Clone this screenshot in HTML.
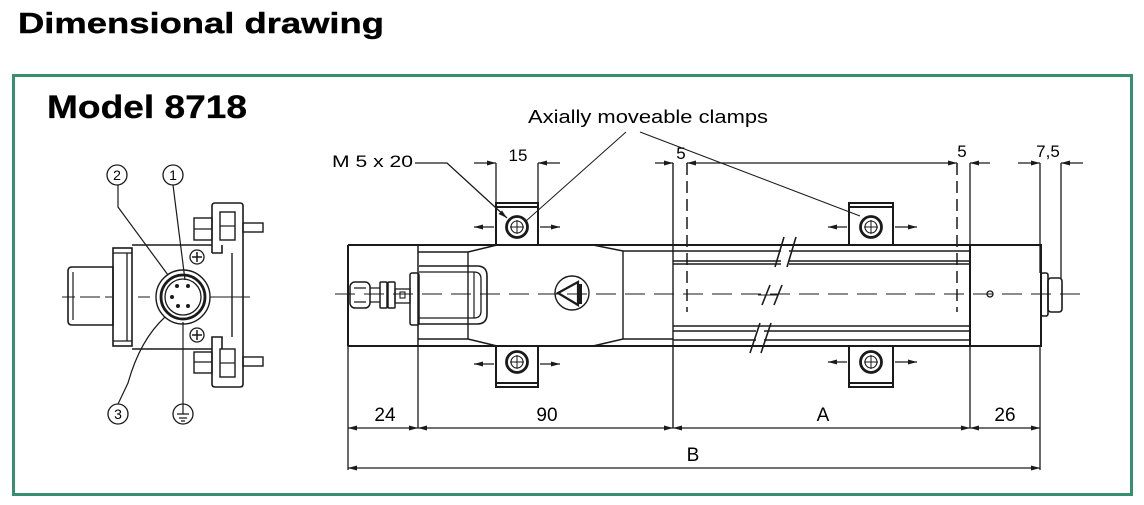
<!DOCTYPE html>
<html><head><meta charset="utf-8"><style>
html,body{margin:0;padding:0;background:#fff;}
svg{display:block;}
text{font-family:"Liberation Sans",Arial,sans-serif;fill:#000;}
</style></head><body>
<svg width="1144" height="505" viewBox="0 0 1144 505" xmlns="http://www.w3.org/2000/svg">
<rect width="1144" height="505" fill="#fff"/>
<text x="18" y="33" font-size="29" font-weight="bold" textLength="366" lengthAdjust="spacingAndGlyphs" stroke="#000" stroke-width="0.4">Dimensional drawing</text>
<rect x="13.5" y="75.5" width="1118" height="419" fill="none" stroke="#36906f" stroke-width="3"/>
<text x="47" y="118" font-size="32" font-weight="bold" textLength="200" lengthAdjust="spacingAndGlyphs" stroke="#000" stroke-width="0.3">Model 8718</text>

<g fill="none" stroke="#1a1a1a" stroke-width="1.6">
<!-- LEFT END VIEW -->
<circle cx="117" cy="175" r="10" stroke-width="1.3"/>
<circle cx="173" cy="175" r="10" stroke-width="1.3"/>
<circle cx="118" cy="414" r="10" stroke-width="1.3"/>
<circle cx="183" cy="414" r="10" stroke-width="1.3"/>
<path d="M177,414 H189 M179,418 H187 M181,421 H185 M183,404 V414" stroke-width="1.2"/>
<path d="M118,185 V207 L168,275" stroke-width="1.2"/>
<path d="M173,185 L185,280" stroke-width="1.2"/>
<path d="M118,404 L128,383 Q140,340 165,317" stroke-width="1.2"/>
<path d="M183,404 V322" stroke-width="1.2"/>
<!-- plug -->
<path d="M72,267 H113 V325 H72 Q68,325 68,321 V271 Q68,267 72,267 Z"/>
<path d="M73,272 V320" stroke-width="1.2"/>
<!-- flange -->
<rect x="113" y="248" width="19" height="98"/>
<path d="M127,253 V341 M113,253 H132 M113,341 H132" stroke-width="1.3"/>
<!-- body -->
<path d="M132,245 H212 M132,349 H212"/>
<!-- bracket -->
<path d="M212,253 V206 Q212,203 215,203 H240 Q243,203 243,206 V384 Q243,387 240,387 H215 Q212,387 212,384 V337 H222 V349 M212,253 H222 V245"/>
<path d="M232,253 V337" stroke-width="1.4"/>
<rect x="220" y="212" width="15" height="28" stroke-width="1.4"/>
<path d="M220,226 H235" stroke-width="1.2"/>
<rect x="220" y="349" width="15" height="28" stroke-width="1.4"/>
<path d="M220,363 H235" stroke-width="1.2"/>
<!-- bolts -->
<rect x="194" y="218" width="18" height="22" stroke-width="1.4"/>
<path d="M194,229 H212" stroke-width="1.2"/>
<rect x="243" y="223" width="20" height="9" stroke-width="1.4"/>
<rect x="194" y="352" width="18" height="21" stroke-width="1.4"/>
<path d="M194,362 H212" stroke-width="1.2"/>
<rect x="243" y="357" width="20" height="9" stroke-width="1.4"/>
<!-- connector -->
<circle cx="183" cy="297" r="27" stroke-width="1.4"/>
<circle cx="183" cy="297" r="22" stroke-width="2.8"/>
<circle cx="183" cy="297" r="18" stroke-width="1.3"/>
<circle cx="197" cy="257" r="7" stroke-width="1.3"/>
<path d="M192,257 H202 M197,252 V262" stroke-width="1.5"/>
<circle cx="197" cy="335" r="7" stroke-width="1.3"/>
<path d="M192,335 H202 M197,330 V340" stroke-width="1.5"/>
<path d="M62,297 H75 M80,297 H100 M105,297 H112 M138,297 H150 M210,297 H250" stroke-width="1"/>
</g>
<g fill="#1a1a1a">
<circle cx="177" cy="286" r="2"/><circle cx="188" cy="286" r="2"/>
<circle cx="172" cy="297" r="2"/>
<circle cx="178" cy="306" r="2"/><circle cx="188" cy="306" r="2"/>
</g>
<g font-size="14" text-anchor="middle">
<text x="117" y="180">2</text>
<text x="173" y="180">1</text>
<text x="118" y="419">3</text>
</g>

<!-- MAIN VIEW -->
<g fill="none" stroke="#1a1a1a" stroke-width="2">
<!-- left body -->
<path d="M348,245 H970 M348,346 H970 M348,245 V346"/>
<path d="M418,245 V346" stroke-width="1.5"/>
<path d="M418,252 H468 L497,245 M593,245 L623,251 H673 M418,339 H468 L497,346 M593,346 L623,339 H673" stroke-width="1.5"/>
<path d="M468,252 V339 M623,251 V339" stroke-width="1.4"/>
<path d="M673,163 V428" stroke-width="1.4"/>
<!-- connector housing -->
<path d="M419,266 H477 Q487,266 487,276 V314 Q487,324 477,324 H419" stroke-width="1.6"/>
<path d="M419,272 H474 Q481,272 481,279 V311 Q481,318 474,318 H419" stroke-width="1.3"/>
<path d="M474,272 V318" stroke-width="1.2"/>
<rect x="410" y="273" width="9" height="52" rx="2" stroke-width="1.5"/>
<!-- gland -->
<rect x="350" y="282" width="20" height="26" rx="5" stroke-width="1.5"/>
<path d="M354,288 H366 M354,302 H366" stroke-width="1.2"/>
<path d="M370,288 H380 M370,302 H380" stroke-width="1.3"/>
<rect x="380" y="282" width="7" height="26" rx="1" stroke-width="1.5"/>
<rect x="388" y="282" width="7" height="26" rx="1" stroke-width="1.5"/>
<rect x="395" y="289" width="15" height="14" stroke-width="1.3"/>
<rect x="400" y="292" width="5" height="6" stroke-width="1.1"/>
<!-- symbol -->
<circle cx="572" cy="293" r="17" stroke-width="1.4"/>
<path d="M558,293 L578,282 V305 Z" stroke-width="2.2"/>
<!-- tube -->
<path d="M673,251 H970 M673,261 H970 M673,264 H970 M673,326 H970 M673,331 H970 M673,340 H970" stroke-width="1.4"/>
<!-- right block -->
<rect x="970" y="245" width="71" height="101" stroke-width="2"/>
<circle cx="990" cy="294" r="3" stroke-width="1.3"/>
<rect x="1041" y="273" width="7" height="43" rx="2" stroke-width="1.6"/>
<rect x="1048" y="278" width="14" height="34" rx="3" stroke-width="1.6"/>
<!-- clamps -->
<path d="M496,245 V203 H538 V245 M496,207 H538"/>
<path d="M496,346 V387 H538 V346 M496,383 H538"/>
<path d="M849,245 V203 H893 V245 M849,207 H893"/>
<path d="M849,346 V387 H893 V346 M849,383 H893"/>
</g>
<!-- break marks -->
<g stroke="#fff" stroke-width="6" fill="none">
<path d="M781,252 L789,252 M781,262 L789,262"/>
<path d="M756,333 L764,333 M756,339 L764,339"/>
</g>
<g stroke="#1a1a1a" stroke-width="1.6" fill="none">
<path d="M775,267 L784,237 M787,267 L796,237"/>
<path d="M762,305 L770,285 M774,305 L782,285"/>
<path d="M750,353 L760,323 M761,353 L771,323"/>
<path d="M758,295 H778" stroke-width="1.1"/>
</g>
<!-- clamp screws -->
<g fill="none" stroke="#1a1a1a">
<circle cx="517" cy="227" r="10.5" stroke-width="2.8"/><circle cx="517" cy="227" r="6" stroke-width="1.1"/><path d="M510,227 H524 M517,220 V234" stroke-width="1"/>
<circle cx="517" cy="362" r="10.5" stroke-width="2.8"/><circle cx="517" cy="362" r="6" stroke-width="1.1"/><path d="M510,362 H524 M517,355 V369" stroke-width="1"/>
<circle cx="871" cy="227" r="10.5" stroke-width="2.8"/><circle cx="871" cy="227" r="6" stroke-width="1.1"/><path d="M864,227 H878 M871,220 V234" stroke-width="1"/>
<circle cx="871" cy="362" r="10.5" stroke-width="2.8"/><circle cx="871" cy="362" r="6" stroke-width="1.1"/><path d="M864,362 H878 M871,355 V369" stroke-width="1"/>
</g>
<rect x="578" y="284" width="4" height="20" fill="#1a1a1a"/>
<!-- center line -->
<path d="M335,294 H1085" stroke="#1a1a1a" stroke-width="1.1" stroke-dasharray="20,9" fill="none"/>
<!-- dashed verticals -->
<path d="M687,163 V312 M957,163 V312" stroke="#1a1a1a" stroke-width="1.5" stroke-dasharray="12,6" fill="none"/>
<!-- extension lines -->
<g stroke="#1a1a1a" stroke-width="1.3" fill="none">
<path d="M496,163 V203 M538,163 V203"/>
<path d="M970,163 V245 M970,346 V428"/>
<path d="M1040,163 V273 M1061,163 V278"/>
<path d="M1040,346 V470"/>
<path d="M348,346 V470 M418,346 V428"/>
<!-- dimension lines -->
<path d="M474,163 H496 M538,163 H560"/>
<path d="M655,163 H673 M687,163 H957 M970,163 H990"/>
<path d="M1018,163 H1040 M1061,163 H1083"/>
<path d="M348,428 H1040 M348,468 H1040"/>
<!-- clamp arrows lines -->
<path d="M474,227 H494 M540,227 H560 M474,364 H494 M540,364 H560 M828,227 H847 M895,227 H917 M828,362 H847 M895,362 H917"/>
<!-- leaders -->
<path d="M415,163 H447 L507,218"/>
<path d="M626,132 L526,221 M640,132 L860,216" stroke-width="1"/>
</g>
<!-- arrowheads -->
<g fill="#1a1a1a">
<path d="M496,163 l-9,-2.5 v5 z M673,163 l-9,-2.5 v5 z M957,163 l-9,-2.5 v5 z M1040,163 l-9,-2.5 v5 z"/>
<path d="M538,163 l9,-2.5 v5 z M687,163 l9,-2.5 v5 z M970,163 l9,-2.5 v5 z M1061,163 l9,-2.5 v5 z"/>
<path d="M474,227 l9,-2.5 v5 z M560,227 l-9,-2.5 v5 z M474,364 l9,-2.5 v5 z M560,364 l-9,-2.5 v5 z"/>
<path d="M828,227 l9,-2.5 v5 z M917,227 l-9,-2.5 v5 z M828,362 l9,-2.5 v5 z M917,362 l-9,-2.5 v5 z"/>
<path d="M348,428 l9,-2.5 v5 z M418,428 l-9,-2.5 v5 z M418,428 l9,-2.5 v5 z M673,428 l-9,-2.5 v5 z M673,428 l9,-2.5 v5 z M970,428 l-9,-2.5 v5 z M970,428 l9,-2.5 v5 z M1040,428 l-9,-2.5 v5 z"/>
<path d="M348,468 l9,-2.5 v5 z M1040,468 l-9,-2.5 v5 z"/>
<path d="M507,218 l-8.5,-4 l3.5,-3.5 z"/>
</g>
<!-- labels -->
<text x="528" y="123" font-size="18" textLength="240" lengthAdjust="spacingAndGlyphs">Axially moveable clamps</text>
<text x="332" y="167" font-size="17" textLength="81" lengthAdjust="spacingAndGlyphs">M 5 x 20</text>
<g font-size="17" text-anchor="middle">
<text x="518" y="161">15</text>
<text x="681" y="159">5</text>
<text x="962" y="157">5</text>
<text x="1048" y="157">7,5</text>
</g>
<g font-size="19" text-anchor="middle">
<text x="385" y="421">24</text>
<text x="547" y="421">90</text>
<text x="823" y="421">A</text>
<text x="1005" y="421">26</text>
<text x="693" y="461">B</text>
</g>
</svg>
</body></html>
